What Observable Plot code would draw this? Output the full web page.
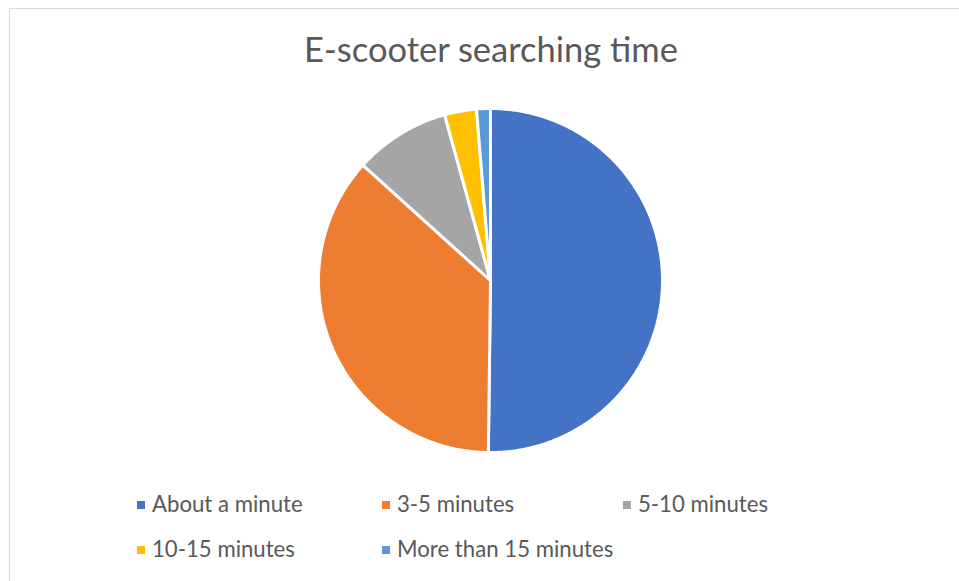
<!DOCTYPE html>
<html>
<head>
<meta charset="utf-8">
<script src="https://cdn.jsdelivr.net/npm/d3@7"></script>
<script src="https://cdn.jsdelivr.net/npm/@observablehq/plot@0.6"></script>
<style>
  html, body { margin: 0; padding: 0; background: #fff; }
  #chart {
    position: relative; width: 959px; height: 581px; overflow: hidden;
    font-family: Lato, "Open Sans", sans-serif; color: #595959;
  }
  #frame {
    position: absolute; left: 9px; top: 8px; width: 960px; height: 600px;
    border-left: 1px solid #d9d9d9; border-top: 1px solid #d9d9d9;
  }
  #title {
    position: absolute; left: 0; width: 982px; top: 29px;
    text-align: center; font-size: 34.5px; line-height: 40px;
  }
  #pie { position: absolute; left: 310px; top: 100px; }
  .item {
    position: absolute; font-size: 22.2px; line-height: 24px; white-space: nowrap;
  }
  .item i {
    display: inline-block; width: 8px; height: 8px; margin-right: 7px;
    vertical-align: 3px;
  }
</style>
</head>
<body>
<div id="chart">
  <div id="frame"></div>
  <div id="title">E-scooter searching time</div>
  <div id="pie"></div>
</div>
<script>
// Share of respondents by time spent searching for an e-scooter (%)
const categories = ["About a minute", "3-5 minutes", "5-10 minutes", "10-15 minutes", "More than 15 minutes"];
const shares = [50.2, 36.5, 9.0, 3.0, 1.3];
const colors = ["#4472C4", "#ED7D31", "#A5A5A5", "#FFC000", "#5B9BD5"];

// Legend placement (column x, row y) in reading order
const legendCols = [137, 382, 623];
const legendRows = [492, 537];

// Turn each share into a closed wedge outline in unit-circle coordinates,
// starting at 12 o'clock and running clockwise.
const total = d3.sum(shares);
const wedges = [];
let start = 0;
categories.forEach((cat, i) => {
  const end = start + (shares[i] / total) * 2 * Math.PI;
  wedges.push({cat, x: 0, y: 0});
  const steps = Math.max(2, Math.ceil((end - start) / (Math.PI / 360)));
  for (let k = 0; k <= steps; k++) {
    const a = start + ((end - start) * k) / steps;
    wedges.push({cat, x: Math.sin(a), y: Math.cos(a)});
  }
  wedges.push({cat, x: 0, y: 0});
  start = end;
});

const pie = Plot.plot({
  width: 360,
  height: 360,
  margin: 8,
  x: {domain: [-1, 1], axis: null},
  y: {domain: [-1, 1], axis: null},
  color: {domain: categories, range: colors},
  marks: [
    Plot.line(wedges, {
      x: "x", y: "y", z: "cat", fill: "cat",
      stroke: "white", strokeWidth: 3, strokeLinejoin: "miter", curve: "linear"
    })
  ]
});
document.getElementById("pie").appendChild(pie);

// Legend: coloured square plus label, three per row
const chart = document.getElementById("chart");
categories.forEach((cat, i) => {
  const el = document.createElement("div");
  el.className = "item";
  el.style.left = legendCols[i % 3] + "px";
  el.style.top = legendRows[Math.floor(i / 3)] + "px";
  const sw = document.createElement("i");
  sw.style.background = colors[i];
  el.appendChild(sw);
  el.appendChild(document.createTextNode(cat));
  chart.appendChild(el);
});
</script>
</body>
</html>
